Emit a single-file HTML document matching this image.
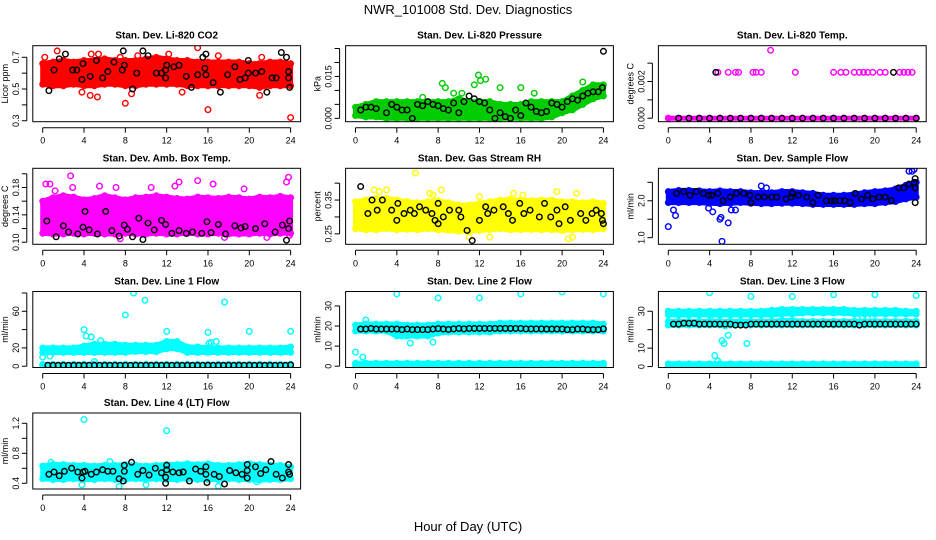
<!DOCTYPE html>
<html><head><meta charset="utf-8">
<style>
html,body{margin:0;padding:0;background:#fff;}
svg{display:block;font-family:"Liberation Sans",Arial,sans-serif;}
</style></head>
<body>
<svg id="chart" width="936" height="540" viewBox="0 0 936 540">
<text x="468" y="14" text-anchor="middle" font-size="13">NWR_101008 Std. Dev. Diagnostics</text>
<text x="468" y="531" text-anchor="middle" font-size="13">Hour of Day (UTC)</text>
</svg>
<script>
// ---- data ----
const hours = [0,1,2,3,4,5,6,7,8,9,10,11,12,13,14,15,16,17,18,19,20,21,22,23,24];
const halfHours = [0.5,1,1.5,2,2.5,3,3.5,4,4.5,5,5.5,6,6.5,7,7.5,8,8.5,9,9.5,10,10.5,11,11.5,12,12.5,13,13.5,14,14.5,15,15.5,16,16.5,17,17.5,18,18.5,19,19.5,20,20.5,21,21.5,22,22.5,23,23.5,24];
const xTicks = [0,4,8,12,16,20,24];

// P1 CO2
const p1Lo = [.53,.52,.52,.53,.52,.52,.53,.53,.52,.52,.53,.53,.53,.53,.52,.52,.52,.52,.52,.52,.52,.51,.52,.52,.52];
const p1Hi = [.66,.67,.68,.67,.68,.68,.69,.68,.68,.68,.69,.70,.69,.68,.68,.67,.67,.67,.67,.67,.66,.66,.67,.67,.66];
const p1Out = [[0.2,.70],[1.4,.74],[4.6,.46],[5.3,.45],[8,.41],[8.6,.47],[15,.76],[16,.37],[17,.71],[21,.46],[21.2,.70],[24,.32],[3.8,.48],[13.5,.48],[7.5,.70],[9.2,.71],[12.2,.72],[4.7,.72],[5.4,.72]];
const p1Black = [[0.6,.49],[1.1,.62],[1.6,.69],[2.2,.72],[2.9,.62],[3.3,.62],[3.9,.66],[3.8,.56],[4.6,.58],[5.2,.68],[5.8,.57],[6.3,.61],[6.9,.67],[7.7,.62],[7.8,.74],[7.9,.65],[8.7,.50],[9.1,.60],[9.7,.74],[10.2,.71],[11,.60],[11.5,.60],[11.9,.62],[11.9,.57],[12,.65],[12.7,.64],[13.2,.65],[13.9,.58],[14.4,.51],[15,.59],[15.5,.70],[15.8,.72],[15.7,.63],[15.8,.59],[16.5,.54],[17.2,.48],[17.9,.59],[18.6,.64],[19.1,.56],[19.6,.57],[19.9,.68],[19.9,.60],[20.6,.60],[21.2,.61],[21.7,.48],[22.2,.57],[22.6,.57],[23.1,.73],[23.6,.70],[23.8,.61],[23.8,.57],[23.9,.51]];

// P2 Pressure
const p2Lo = [.001,.0005,.0005,0,0,0,0,0,0,0,0,0,0,0,0,0,0,0,0,.0005,.002,.003,.005,.007,.008];
const p2Hi = [.004,.005,.006,.006,.006,.006,.006,.006,.006,.006,.007,.006,.006,.006,.005,.005,.005,.006,.006,.006,.006,.008,.010,.012,.012];
const p2Out = [[11.9,.0155],[12.1,.0135],[12.6,.014],[14,.011],[11.5,.012],[8.4,.0125],[8.7,.011],[16,.011],[22,.013],[6.5,.0075],[9.5,.009],[17.3,.009],[10.3,.009]];
const p2Black = [[0.5,.003],[1,.004],[1.5,.004],[2,.0035],[3,.002],[3.5,.005],[4,.004],[4.5,.003],[5,.003],[5.5,0],[6,.005],[6.5,.0045],[7,.006],[7.5,.005],[8,.0045],[8.5,.0035],[9,.003],[9.5,.0055],[10,.002],[10.5,.006],[11,.008],[11.5,.007],[12,.006],[12.5,.0055],[13,.003],[13.5,0],[14,.002],[14.5,.0006],[15,0],[15.5,.003],[16,.001],[16.5,.0055],[17,.004],[17.5,.0025],[18,.002],[18.5,.0025],[19,.0055],[19.5,.005],[20,.004],[20.5,.006],[21,.007],[21.5,.0065],[22,.008],[22.5,.009],[23,.0095],[23.5,.0095],[23.9,.011],[24,.024]];

// P3 Temp
const p3Lo = [0,0,0,0,0,0,0,0,0,0,0,0,0,0,0,0,0,0,0,0,0,0,0,0,0];
const p3Hi = [0,0,0,0,0,0,0,0,0,0,0,0,0,0,0,0,0,0,0,0,0,0,0,0,0];
const p3Out = [[4.8,.0025],[5.8,.0025],[6.5,.0025],[6.8,.0025],[8.2,.0025],[8.5,.0025],[9.0,.0025],[12.3,.0025],[16,.0025],[16.7,.0025],[17.2,.0025],[18,.0025],[18.5,.0025],[18.9,.0025],[19.3,.0025],[19.8,.0025],[20.5,.0025],[21,.0025],[22.4,.0025],[22.8,.0025],[23.2,.0025],[23.6,.0025],[9.9,.0037]];
const p3Black = [[1,0],[2,0],[3,0],[4,0],[4.6,.0025],[5,0],[6,0],[7,0],[8,0],[9,0],[10,0],[11,0],[12,0],[13,0],[14,0],[15,0],[16,0],[17,0],[18,0],[19,0],[20,0],[21,0],[21.8,.0025],[22,0],[23,0],[24,0]];

// P4 Amb box temp
const p4Lo = [.113,.112,.112,.113,.112,.113,.112,.112,.113,.112,.112,.113,.112,.112,.113,.112,.112,.113,.112,.112,.112,.113,.112,.113,.113];
const p4Hi = [.160,.165,.168,.166,.162,.164,.168,.165,.162,.165,.166,.168,.166,.164,.163,.166,.165,.164,.166,.165,.163,.166,.165,.167,.165];
const p4Out = [[0.3,.185],[0.7,.185],[2.7,.197],[1.2,.175],[0.1,.115],[5.5,.182],[7.1,.18],[7.5,.105],[13.2,.188],[15,.19],[16.5,.185],[17.6,.107],[23.8,.195],[23.6,.188],[23.9,.110],[21.7,.107],[2.9,.180],[10.5,.18],[12.8,.182],[19.5,.178]];
const p4Black = [[0.4,.131],[1.3,.108],[2,.124],[2.5,.115],[3.4,.112],[3.9,.122],[4.1,.145],[4.5,.118],[5.3,.112],[6.1,.145],[6.7,.117],[7.4,.109],[7.9,.125],[8.2,.119],[8.7,.108],[9.3,.135],[9.7,.104],[10.2,.128],[10.8,.118],[11.5,.132],[11.9,.126],[12.5,.113],[13.2,.117],[13.9,.113],[14.5,.115],[15.4,.113],[15.9,.130],[16.3,.114],[17,.126],[17.7,.112],[18.6,.124],[19.2,.121],[19.6,.123],[20.6,.120],[21.5,.127],[22.5,.115],[23.2,.125],[23.8,.120],[23.9,.131],[23.6,.103]];

// P5 Gas stream RH
const p5Lo = [.265,.262,.262,.265,.262,.263,.262,.265,.262,.260,.258,.258,.260,.262,.265,.262,.262,.263,.262,.262,.260,.262,.263,.262,.265];
const p5Hi = [.345,.350,.355,.355,.350,.345,.342,.345,.348,.342,.335,.335,.340,.345,.350,.352,.350,.348,.350,.350,.345,.345,.342,.345,.340];
const p5Out = [[5.8,.43],[1.8,.38],[2.3,.375],[3,.38],[8.3,.38],[7.2,.37],[15.3,.37],[19.5,.375],[21.4,.37],[20.6,.235],[21,.24],[11,.24],[13,.24],[7.5,.365],[12,.36],[16.2,.365]];
const p5Black = [[0.5,.39],[1.2,.31],[1.6,.35],[2.1,.32],[2.6,.35],[3.5,.32],[4.1,.34],[4.0,.29],[4.7,.31],[5.3,.32],[5.7,.31],[6.2,.33],[6.8,.32],[7.4,.31],[7.7,.29],[8,.34],[8,.28],[8.5,.30],[9.1,.32],[10,.32],[10.2,.30],[10.8,.26],[11.3,.23],[12,.29],[12.6,.33],[12.8,.31],[13.4,.32],[14.3,.33],[14.8,.31],[15.2,.29],[15.9,.34],[16.3,.31],[16.9,.32],[17.8,.30],[18.3,.34],[18.9,.30],[19.5,.32],[19.7,.28],[20.3,.33],[20.8,.29],[21.8,.31],[22.3,.29],[22.9,.31],[23.3,.32],[23.8,.31],[23.9,.29],[24,.28]];

// P6 Sample flow
const p6Lo = [1.95,1.95,1.95,1.95,1.93,1.92,1.93,1.95,1.93,1.92,1.92,1.93,1.93,1.92,1.9,1.9,1.9,1.9,1.9,1.92,1.92,1.95,1.98,2.05,2.1];
const p6Hi = [2.25,2.28,2.28,2.27,2.25,2.27,2.25,2.25,2.22,2.22,2.22,2.25,2.25,2.22,2.2,2.15,2.15,2.15,2.18,2.22,2.25,2.27,2.32,2.42,2.5];
const p6Out = [[0,1.3],[0.5,1.75],[0.7,1.6],[5,1.5],[5.1,1.55],[5.2,0.9],[5.8,1.4],[3.9,1.8],[4.3,1.7],[23.3,2.8],[23.8,2.85],[23.6,2.8],[9,2.4],[9.5,2.35],[6.5,1.75],[6.1,1.75]];
const p6Black = [[0.8,2.2],[1.5,2.25],[2.1,2.15],[2.7,2.25],[3.4,2.2],[3.9,2.15],[4.2,2.15],[4.8,2.2],[5.3,2.0],[6.0,2.1],[6.6,2.2],[7.3,2.2],[7.9,2.15],[8.0,1.95],[8.7,2.1],[9.3,2.1],[10,2.1],[10.5,2.1],[11.4,2.05],[11.9,2.1],[12.0,2.2],[12.6,2.15],[13.4,2.1],[14,1.95],[14.5,2.15],[15.3,2.0],[15.8,2.0],[16.1,2.0],[16.6,2.0],[17.1,2.0],[17.6,1.95],[18.1,2.2],[18.7,2.05],[19.3,2.15],[19.8,2.05],[20.4,2.1],[21,2.1],[21.6,2.0],[22.3,2.35],[22.8,2.35],[23.3,2.45],[23.8,2.5],[23.9,2.35],[23.9,2.6],[23.9,1.95]];

// P7 Line 1 flow
const p7LoA = [15,15,15,15,15,15,15,15,15,16,16,16,19,19,15,15,15,15,15,15,15,15,15,15,15];
const p7HiA = [20,20,20,20,22,24,24,24,23,23,23,23,27,27,21,21,20,20,20,20,20,20,20,20,21];
const p7LoB = [0.5,0.5,0.5,0.5,0.5,0.5,0.5,0.5,0.5,0.5,0.5,0.5,0.5,0.5,0.5,0.5,0.5,0.5,0.5,0.5,0.5,0.5,0.5,0.5,0.5];
const p7HiB = [2,2,2,2,2,2,2,2,2,2,2,2,2,2,2,2,2,2,2,2,2,2,2,2,2];
const p7Out = [[0,10],[0.7,11],[4,40],[4.2,33],[4.7,32],[5.6,28],[8,56],[8.8,80],[9.9,72],[12,38],[16,37],[17.6,70],[20,38],[24,38],[16.1,25],[16.3,26],[16.8,27],[3.2,16],[5,5]];
const p7Black = [1,1,1,1,1,1,1,1,1,1,1,1,1,1,1,1,1,1,1,1,1,1,1,1,1,1,1,1,1,1,1,1,1,1,1,1,1,1,1,1,1,1,1,1,1,1,1,1.5];

// P8 Line 2 flow
const p8LoA = [17.5,17.5,17.5,17.5,15,15,15,15,16.5,17,17,17,17,17,17.5,17.5,17.5,17.5,17.5,17.5,17.5,17.5,17.5,17.5,17.5];
const p8HiA = [20.5,21,21,21,21,20.5,20.5,20.5,21,21,21,21,21,21,21.5,21.5,21.5,21.5,21.5,21.5,21.5,21.5,21.5,21.5,21];
const p8LoB = [0.5,0.5,0.5,0.5,0.5,0.5,0.5,0.5,0.5,0.5,0.5,0.5,0.5,0.5,0.5,0.5,0.5,0.5,0.5,0.5,0.5,0.5,0.5,0.5,0.5];
const p8HiB = [1.5,1.5,1.5,1.5,1.5,1.5,1.5,1.5,1.5,1.5,1.5,1.5,1.5,1.5,1.5,1.5,1.5,1.5,1.5,1.5,1.5,1.5,1.5,1.5,1.5];
const p8Out = [[0,7],[0.7,4.5],[4,36],[8,34],[12,34],[16,36],[20,37],[24,36],[4.5,15],[5.3,11.5],[7.5,12],[1,23]];
const p8Black = [18.5,18.5,18.8,18.5,18.5,18.5,18.5,18.5,18.2,18.5,18.2,18.2,18.2,18.2,18.5,18.7,18.5,18.3,18.6,18.8,18.6,18.8,18.8,18.8,18.8,18.8,18.8,18.8,18.8,18.8,18.8,18.8,18.6,18.6,18.6,18.6,18.5,18.5,18.5,18.5,18.2,18.2,18.5,18.5,18.2,18.2,18.2,18.6];

// P9 Line 3 flow
const p9LoA = [28,28,28,28,28,28,28,28,28,28,28,28.5,28.5,29,29,29,29,29,28.5,28.5,28.5,28.5,28.5,28.5,28.5];
const p9HiA = [30,30,30,30,30,30,30,30,30,30,30.5,31,31,31,31,31,31,31,30.5,30.5,30.5,30.5,30.5,30,30];
const p9LoM = [22.5,22.5,22.5,22.5,22.5,22.5,22.5,22.5,22.5,22.5,22.5,22.5,22.5,22.5,22.5,22.5,22.5,22.5,22.5,22.5,22.5,22.5,22.5,22.5,22.5];
const p9HiM = [24.5,24.5,24.5,24.5,24.5,24.5,24.5,24.5,24.5,24.5,24.5,25,25,24.5,24.5,24.5,24.5,24.5,24.5,24.5,24.5,24.5,24.5,24.5,24.5];
const p9LoB = [0.5,0.5,0.5,0.5,0.5,0.5,0.5,0.5,0.5,0.5,0.5,0.5,0.5,0.5,0.5,0.5,0.5,0.5,0.5,0.5,0.5,0.5,0.5,0.5,0.5];
const p9HiB = [1.5,1.5,1.5,1.5,1.5,1.5,1.5,1.5,1.5,1.5,1.5,1.5,1.5,1.5,1.5,1.5,1.5,1.5,1.5,1.5,1.5,1.5,1.5,1.5,1.5];
const p9Out = [[4,40],[8,38],[12,38],[16,39],[20,39],[24,38.5],[4.5,6],[4.8,3],[5.2,14],[5.4,12.5],[5.8,17],[7.6,12.5],[4.6,26],[5.5,22],[18.3,26],[19.3,26]];
const p9Black = [23,23,23.5,23.5,23.5,23,23,23,23,23,23,23,22.5,22.5,22.5,23,23,23,23,23,23,23,23,23,23,23,23,23,23,23,23,23,23,23,23,23,22.5,23,23,23,23,23,23,23,23,23,23,23];

// P10 Line 4 flow
const p10Lo = [.46,.45,.45,.46,.45,.45,.46,.45,.45,.46,.45,.46,.45,.45,.46,.45,.45,.45,.46,.45,.45,.44,.45,.45,.46];
const p10Hi = [.63,.65,.65,.64,.64,.63,.64,.64,.65,.64,.63,.64,.65,.65,.66,.65,.66,.64,.64,.65,.66,.65,.64,.64,.62];
const p10Out = [[4,1.25],[12,1.1],[20,1.38],[7.4,.36],[17,.36],[3.8,.38],[10,.38],[20.7,.42],[0.8,.68],[6.5,.69]];
const p10Black = [[0.6,.52],[1.1,.55],[1.6,.50],[2.1,.56],[2.8,.60],[3.4,.55],[3.9,.55],[3.8,.47],[4.1,.56],[4.7,.52],[5.2,.55],[5.8,.58],[6.3,.56],[6.8,.56],[7.4,.46],[7.8,.43],[7.9,.56],[7.9,.64],[8.6,.68],[9.2,.52],[9.7,.57],[10.3,.51],[10.9,.60],[11.5,.54],[11.9,.40],[11.9,.48],[12,.58],[12,.64],[12.6,.55],[13.2,.54],[13.6,.55],[14.2,.43],[14.8,.59],[15.3,.56],[15.8,.62],[15.8,.52],[15.9,.41],[16.6,.52],[17.1,.49],[17.6,.39],[18.1,.57],[18.7,.54],[19.3,.52],[19.8,.65],[19.8,.57],[19.8,.47],[20.6,.62],[21.1,.53],[21.6,.58],[22.1,.69],[22.6,.52],[23.2,.47],[23.8,.65],[23.8,.55],[23.9,.52]];

function pairsFrom(vals){ return vals.map((v,i)=>[halfHours[i],v]); }

// ---- layout ----
const colX0 = [42.7, 355.5, 668.3];
const rowTop = [45.7, 168.3, 291.5, 413];
const PXH = 10.33, BOXH = 76;

const panels = [
 {name:'co2', title:'Stan. Dev. Li-820 CO2', ylab:'Licor ppm', c:0,r:0, dom:[0.294,0.773], ticks:[.3,.4,.5,.6,.7], labels:{'0.3':'0.3','0.5':'0.5','0.7':'0.7'}, color:'#ff0000', bands:[[p1Lo,p1Hi]], out:p1Out, black:p1Black},
 {name:'pressure', title:'Stan. Dev. Li-820 Pressure', ylab:'kPa', c:1,r:0, dom:[-0.0012,0.026], ticks:[0,.005,.01,.015,.02,.025], labels:{'0':'0.000','0.015':'0.015'}, color:'#00cc00', bands:[[p2Lo,p2Hi]], out:p2Out, black:p2Black},
 {name:'temp', title:'Stan. Dev. Li-820 Temp.', ylab:'degrees C', c:2,r:0, dom:[-0.00019,0.00395], ticks:[0,.001,.002,.003], labels:{'0':'0.000','0.002':'0.002'}, color:'#ff00ff', bands:[[p3Lo,p3Hi]], out:p3Out, black:p3Black},
 {name:'amb-box-temp', title:'Stan. Dev. Amb. Box Temp.', ylab:'degrees C', c:0,r:1, dom:[0.097,0.208], ticks:[.1,.12,.14,.16,.18,.2], labels:{'0.1':'0.10','0.14':'0.14','0.18':'0.18'}, color:'#ff00ff', bands:[[p4Lo,p4Hi]], out:p4Out, black:p4Black},
 {name:'gas-rh', title:'Stan. Dev. Gas Stream RH', ylab:'percent', c:1,r:1, dom:[0.219,0.444], ticks:[.25,.3,.35,.4], labels:{'0.25':'0.25','0.35':'0.35'}, color:'#ffff00', bands:[[p5Lo,p5Hi]], out:p5Out, black:p5Black},
 {name:'sample-flow', title:'Stan. Dev. Sample Flow', ylab:'ml/min', c:2,r:1, dom:[0.82,2.88], ticks:[1,1.5,2,2.5], labels:{'1':'1.0','2':'2.0'}, color:'#0000ff', bands:[[p6Lo,p6Hi]], out:p6Out, black:p6Black},
 {name:'line1-flow', title:'Stan. Dev. Line 1 Flow', ylab:'ml/min', c:0,r:2, dom:[-1.4,81.6], ticks:[0,20,40,60,80], labels:{'0':'0','20':'20','60':'60'}, color:'#00ffff', bands:[[p7LoA,p7HiA],[p7LoB,p7HiB]], out:p7Out, black:pairsFrom(p7Black)},
 {name:'line2-flow', title:'Stan. Dev. Line 2 Flow', ylab:'ml/min', c:1,r:2, dom:[-0.65,37.2], ticks:[0,10,20,30], labels:{'0':'0','10':'10','20':'20','30':'30'}, color:'#00ffff', bands:[[p8LoA,p8HiA],[p8LoB,p8HiB]], out:p8Out, black:pairsFrom(p8Black)},
 {name:'line3-flow', title:'Stan. Dev. Line 3 Flow', ylab:'ml/min', c:2,r:2, dom:[-0.5,40.7], ticks:[0,10,20,30], labels:{'0':'0','10':'10','30':'30'}, color:'#00ffff', bands:[[p9LoA,p9HiA],[p9LoM,p9HiM],[p9LoB,p9HiB]], out:p9Out, black:pairsFrom(p9Black)},
 {name:'line4-flow', title:'Stan. Dev. Line 4 (LT) Flow', ylab:'ml/min', c:0,r:3, dom:[0.324,1.337], ticks:[.4,.6,.8,1,1.2], labels:{'0.4':'0.4','0.8':'0.8','1.2':'1.2'}, color:'#00ffff', bands:[[p10Lo,p10Hi]], out:p10Out, black:p10Black}
];

const NS='http://www.w3.org/2000/svg';
const svg=document.getElementById('chart');
function mk(tag,attrs,parent){const e=document.createElementNS(NS,tag);for(const k in attrs)e.setAttribute(k,attrs[k]);(parent||svg).appendChild(e);return e;}

panels.forEach(p=>{
  const x0=colX0[p.c], top=rowTop[p.r], bot=top+BOXH;
  const left=x0-9.9, right=x0+257.9;
  const X=h=>x0+h*PXH;
  const Y=v=>bot-(v-p.dom[0])/(p.dom[1]-p.dom[0])*BOXH;
  const g=mk('g',{});
  
  
  const clip=mk('clipPath',{id:'clip-'+p.name},g);
  mk('rect',{x:left,y:top,width:right-left,height:BOXH},clip);
  const plot=mk('g',{'clip-path':'url(#clip-'+p.name+')'},g);
  // bands
  p.bands.forEach((b,bi)=>{
    const pts=hours.map((h,i)=>X(h).toFixed(1)+','+Y(b[1][i]).toFixed(1)).concat(hours.slice().reverse().map((h,j)=>{const i=hours.length-1-j;return X(h).toFixed(1)+','+Y(b[0][i]).toFixed(1);}));
    const poly=mk('polygon',{points:pts.join(' '),fill:p.color,stroke:p.color,'stroke-width':5,'stroke-linejoin':'round'},plot);
    
    
    hours.forEach((h,i)=>{
      [b[0][i],b[1][i]].forEach(v=>{
        const c=mk('circle',{cx:X(h),cy:Y(v),r:2.8,fill:'none',stroke:p.color,'stroke-width':1.3},plot);
        
        
      });
    });
  });
  p.out.forEach(d=>{
    const c=mk('circle',{cx:X(d[0]),cy:Y(d[1]),r:2.8,fill:'none',stroke:p.color,'stroke-width':1.4},plot);
    
    
  });
  p.black.forEach(d=>{
    const c=mk('circle',{cx:X(d[0]),cy:Y(d[1]),r:2.8,fill:'none',stroke:'#000','stroke-width':1.4},plot);
    
    
  });
  // box
  const box=mk('rect',{x:left,y:top,width:right-left,height:BOXH,fill:'none',stroke:'#000','stroke-width':1},g);
  
  
  // x axis
  const xa=mk('g',{'font-size':9},g);
  
  
  mk('line',{x1:X(xTicks[0]),x2:X(xTicks[xTicks.length-1]),y1:bot+6,y2:bot+6,stroke:'#000'},xa);
  xTicks.forEach(t=>{
    mk('line',{x1:X(t),x2:X(t),y1:bot+6,y2:bot+11,stroke:'#000'},xa);
    const tx=mk('text',{x:X(t),y:bot+22,'text-anchor':'middle'},xa);
    tx.textContent=t;
  });
  // y axis
  const ya=mk('g',{'font-size':9},g);
  
  
  mk('line',{x1:left-6,x2:left-6,y1:Y(p.ticks[0]),y2:Y(p.ticks[p.ticks.length-1]),stroke:'#000'},ya);
  p.ticks.forEach(t=>{
    const y=Y(t);
    mk('line',{x1:left-11,x2:left-6,y1:y,y2:y,stroke:'#000'},ya);
    const key=String(+t.toFixed(4));
    if(p.labels[key]!==undefined){
      const tx=mk('text',{x:left-14,y:y,'text-anchor':'middle',transform:'rotate(-90 '+(left-14)+' '+y+')'},ya);
      tx.textContent=p.labels[key];
    }
  });
  const yl=mk('text',{x:left-25,y:top+BOXH/2,'text-anchor':'middle','font-size':9,transform:'rotate(-90 '+(left-25)+' '+(top+BOXH/2)+')'},g);
  yl.textContent=p.ylab;
  
  
  const tt=mk('text',{x:(left+right)/2,y:top-7,'text-anchor':'middle','font-size':10,'font-weight':'bold'},g);
  tt.textContent=p.title;
  
  
});
</script>
</body></html>
